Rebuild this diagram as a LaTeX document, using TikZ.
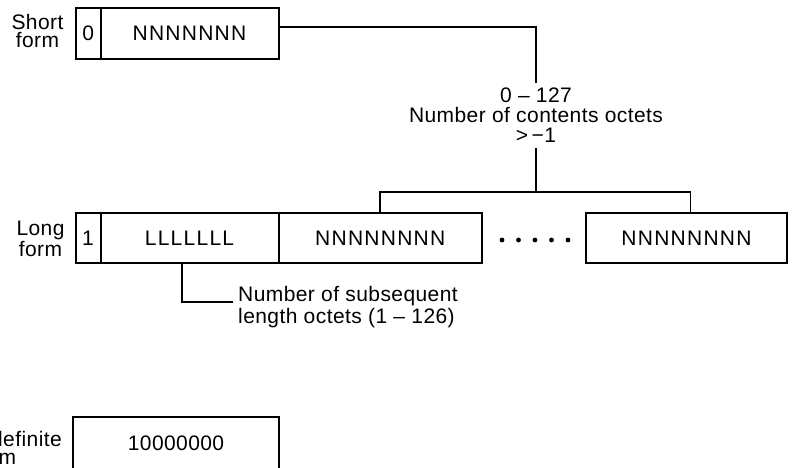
\documentclass[tikz,border=0pt]{standalone}
\usepackage{fontspec}
\setmainfont{Liberation Sans}[LetterSpace=2]
\usetikzlibrary{calc}
\begin{document}
\begin{tikzpicture}[x=1pt,y=-1pt,
  every node/.style={font=\fontsize{21}{20}\selectfont},
  field/.style={draw, line width=2pt, inner sep=0pt, minimum height=50pt},
  boxtext/.style={font=\fontsize{21}{20}\selectfont\addfontfeature{LetterSpace=6}},
  side/.style={align=center, inner sep=0pt, font=\fontsize{21}{18}\selectfont},
  wire/.style={line width=1.8pt}]
\path[use as bounding box, clip] (0,0) rectangle (793,467);

% short form: one length octet
\node[field, minimum width=24.5pt, minimum height=51pt] (s0) at (88.25,33.5) {0};
\node[field, boxtext, minimum width=178pt, minimum height=51pt] (sN) at (189.5,33.5) {NNNNNNN};
\node[side] (short) at (37.5,31) {Short\\form};

% long form: initial octet plus subsequent length octets
\node[field, minimum width=25pt] (l1) at (88,238) {1};
\node[field, boxtext, minimum width=178pt] (lL) at (189.5,238) {LLLLLLL};
\node[field, boxtext, minimum width=203.5pt] (lN) at (380.25,238) {NNNNNNNN};
\node[field, boxtext, minimum width=201pt] (lM) at (686.5,238) {NNNNNNNN};
\node[side] (long) at (40.5,239) {Long\\form};
\foreach \x in {502,518.5,535,551.5,568} \fill (\x,240) circle (2.4pt);

% indefinite form
\node[field, minimum width=206pt, minimum height=52pt] (iN) at (176,443) {10000000};
\node[side, align=left, anchor=east] (indef) at (62,447.5) {Indefinite\\form};

% annotation for the short form length value
\node[align=center, inner xsep=0pt, inner ysep=5pt, anchor=north] (count) at (536,83)
  {0 – 127\\Number of contents octets\\>\,−1};
\coordinate (top) at ($(sN.north east)!0.37!(sN.south east)$);
\coordinate (split) at (536,192);
\draw[wire] (top) -| (count.north);
\draw[wire] (count.south) -- (split);
\draw[wire] (lN.north) |- (split) -| ([xshift=4pt]lM.north);

% annotation for the long form length octets
\node[align=left, inner sep=0pt, anchor=north west, font=\fontsize{21}{22}\selectfont] (sub) at (238,286)
  {Number of subsequent\\length octets (1 – 126)};
\coordinate (subtip) at ($(sub.north west)+(-5,16)$);
\draw[wire] ([xshift=-7.5pt]lL.south) |- (subtip);
\end{tikzpicture}
\end{document}
